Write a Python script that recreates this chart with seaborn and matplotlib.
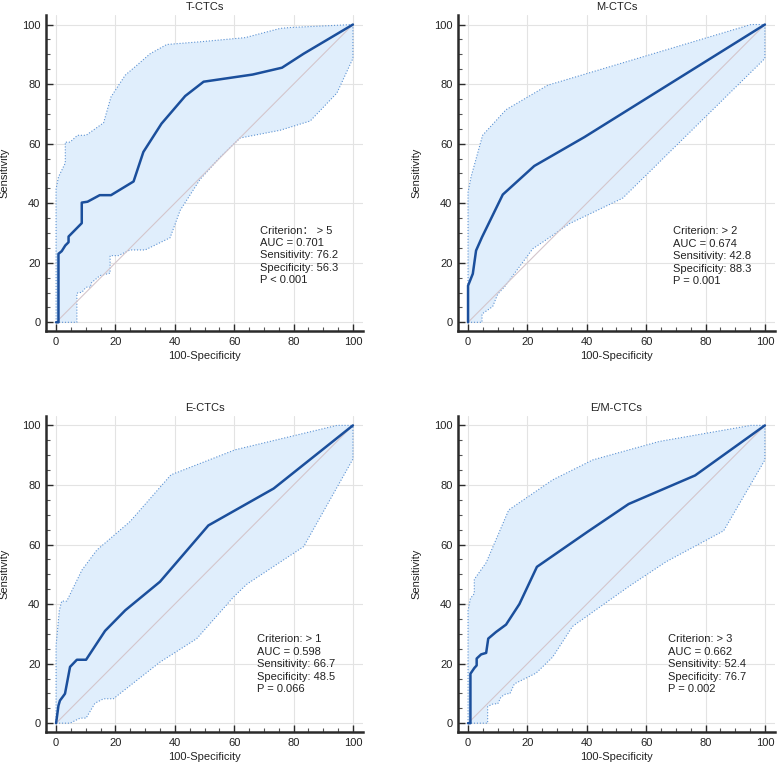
import matplotlib
matplotlib.use("Agg")
import matplotlib.pyplot as plt
import seaborn as sns
import pandas as pd
import numpy as np

sns.set_style("white")
plt.rcParams['font.family'] = ['Liberation Sans', 'Noto Sans CJK SC', 'DejaVu Sans']

# ---------------- data ----------------
titles = ["T-CTCs", "M-CTCs", "E-CTCs", "E/M-CTCs"]

# T-CTCs
t_roc_x = [0, 0.8, 0.8, 1.9, 3.1, 4.2, 4.2, 8.65, 8.65, 10.6, 14.7, 18.5, 26.1, 29.4, 35.5, 43.5, 49.7, 66.2, 76.1, 83.4, 100]
t_roc_y = [0, 0, 23.0, 23.9, 25.8, 26.9, 28.8, 33.3, 40.2, 40.5, 42.7, 42.7, 47.3, 57.2, 66.7, 76.0, 80.8, 83.2, 85.5, 90.2, 100]
t_up_x = [0, 0, 0.8, 3.1, 3.1, 4.7, 7.2, 10.1, 16.0, 18.5, 23.3, 27.2, 31.7, 37.3, 48.5, 63.7, 75.5, 78.9, 100]
t_up_y = [0, 44.8, 48.8, 53.5, 60.5, 60.5, 62.8, 62.8, 67.0, 75.7, 83.0, 86.3, 90.2, 93.3, 94.2, 95.6, 98.7, 99.0, 100]
t_lo_x = [0, 7.0, 7.0, 8.7, 10.1, 11.7, 11.7, 14.8, 18.2, 18.2, 21.0, 24.9, 30.0, 38.4, 41.8, 48.5, 55.3, 62.0, 75.5, 85.6, 94.6, 100, 100]
t_lo_y = [0, 0, 9.8, 10.1, 11.8, 11.8, 13.1, 15.7, 16.5, 22.4, 22.4, 24.3, 24.3, 28.4, 37.6, 48.0, 55.5, 61.9, 64.5, 67.6, 77.0, 88.6, 100]

# M-CTCs
m_roc_x = [0, 0, 1.6, 2.7, 4.7, 11.7, 22.3, 39.2, 100]
m_roc_y = [0, 12.3, 16.3, 24.1, 28.6, 42.9, 52.5, 62.2, 100]
m_up_x = [0, 0, 1.0, 4.9, 12.8, 26.8, 95.3, 100]
m_up_y = [0, 43.7, 48.8, 62.8, 71.4, 79.6, 100, 100]
m_lo_x = [0, 4.7, 4.7, 8.3, 10.0, 12.2, 21.8, 26.3, 34.1, 52.1, 100, 100]
m_lo_y = [0, 0, 2.8, 5.3, 9.5, 11.8, 24.7, 27.7, 33.1, 41.7, 88.6, 100]

# E-CTCs
e_roc_x = [0, 0.8, 1.3, 2.2, 3.0, 4.7, 7.0, 10.1, 16.5, 23.3, 35.0, 51.3, 73.3, 100]
e_roc_y = [0, 5.9, 7.6, 8.8, 9.9, 18.9, 21.3, 21.3, 31.0, 37.9, 47.5, 66.4, 78.8, 100]
e_up_x = [0, 0, 1.1, 1.9, 3.6, 8.7, 13.7, 24.9, 38.7, 60.3, 94.6, 100]
e_up_y = [0, 26.1, 37.9, 41.0, 41.0, 51.4, 58.1, 67.7, 83.4, 91.8, 100, 100]
e_lo_x = [0, 4.7, 8.1, 10.1, 13.1, 16.0, 19.3, 35.0, 47.4, 59.8, 64.3, 83.4, 100, 100]
e_lo_y = [0, 0, 1.7, 1.7, 6.7, 8.2, 8.2, 20.5, 28.4, 42.4, 46.7, 59.3, 88.7, 100]

# E/M-CTCs
em_roc_x = [0, 0.8, 0.8, 2.1, 2.9, 2.9, 4.4, 6.1, 6.8, 9.4, 12.8, 17.3, 23.2, 40.3, 54.1, 76.5, 100]
em_roc_y = [0, 0, 16.6, 18.5, 19.4, 21.7, 23.1, 23.6, 28.4, 30.6, 33.1, 40.0, 52.5, 64.3, 73.6, 83.2, 100]
em_up_x = [0, 0, 0.8, 2.1, 2.1, 6.1, 13.7, 28.5, 42.0, 64.4, 95.3, 100]
em_up_y = [0, 37.9, 41.9, 43.5, 48.3, 53.9, 71.6, 81.7, 88.4, 94.6, 100, 100]
em_lo_x = [0, 6.6, 6.6, 8.5, 10.0, 11.1, 12.8, 14.1, 15.6, 22.9, 28.5, 35.2, 54.3, 66.7, 86.1, 100, 100]
em_lo_y = [0, 0, 5.6, 6.5, 6.5, 8.8, 9.9, 9.9, 13.2, 16.8, 22.2, 32.5, 46.0, 54.2, 64.6, 88.4, 100]

stats = [
    "Criterion\uff1a > 5\nAUC = 0.701\nSensitivity: 76.2\nSpecificity: 56.3\nP < 0.001",
    "Criterion: > 2\nAUC = 0.674\nSensitivity: 42.8\nSpecificity: 88.3\nP = 0.001",
    "Criterion: > 1\nAUC = 0.598\nSensitivity: 66.7\nSpecificity: 48.5\nP = 0.066",
    "Criterion: > 3\nAUC = 0.662\nSensitivity: 52.4\nSpecificity: 76.7\nP = 0.002",
]
text_pos = [(68.7, 32.5), (68.9, 32.2), (67.6, 29.8), (67.3, 29.8)]

ticks = [0, 20, 40, 60, 80, 100]
diag = [0, 100]

panels = [
    (t_roc_x, t_roc_y, t_up_x, t_up_y, t_lo_x, t_lo_y),
    (m_roc_x, m_roc_y, m_up_x, m_up_y, m_lo_x, m_lo_y),
    (e_roc_x, e_roc_y, e_up_x, e_up_y, e_lo_x, e_lo_y),
    (em_roc_x, em_roc_y, em_up_x, em_up_y, em_lo_x, em_lo_y),
]

# ---------------- figure ----------------
fig = plt.figure(figsize=(7.77, 7.65), dpi=100)
positions = [
    [0.0592, 0.567, 0.408, 0.413],
    [0.5894, 0.567, 0.408, 0.413],
    [0.0592, 0.043, 0.408, 0.413],
    [0.5894, 0.043, 0.408, 0.413],
]

line_col = "#1b4f9c"
band_edge = "#5d93d3"
band_fill = "#e0eefc"

for i, (rx, ry, ux, uy, lx, ly) in enumerate(panels):
    ax = fig.add_axes(positions[i])
    poly_x = list(ux) + list(lx)[::-1]
    poly_y = list(uy) + list(ly)[::-1]
    ax.fill(poly_x, poly_y, color=band_fill, zorder=1, lw=0)
    ax.plot(ux, uy, color=band_edge, lw=0.8, ls=":", zorder=2)
    ax.plot(lx, ly, color=band_edge, lw=0.8, ls=":", zorder=2)
    ax.plot(diag, diag, color="#d4c6cc", lw=0.8, zorder=2)
    df = pd.DataFrame({"x": rx, "y": ry})
    sns.lineplot(data=df, x="x", y="y", sort=False, estimator=None,
                 color=line_col, lw=1.8, ax=ax, zorder=3)

    ax.set_xlim(-3.4, 103.4)
    ax.set_ylim(-3.0, 103.1)
    ax.set_xticks(ticks)
    ax.set_yticks(ticks)
    ax.set_xticks(np.arange(0, 101, 5), minor=True)
    ax.set_yticks(np.arange(0, 101, 5), minor=True)
    ax.grid(True, which="major", color="#e3e3e3", lw=0.8, zorder=0)
    ax.grid(False, which="minor")
    ax.set_axisbelow(True)
    for s in ["top", "right"]:
        ax.spines[s].set_visible(False)
    for s in ["left", "bottom"]:
        ax.spines[s].set_color("#2b2b2b")
        ax.spines[s].set_linewidth(1.8)
    ax.tick_params(which="both", bottom=True, left=True, top=False, right=False)
    ax.tick_params(which="major", direction="in", length=5, width=1, color="#2b2b2b",
                   labelsize=8, labelcolor="#222222", pad=4)
    ax.tick_params(which="minor", direction="in", length=3, width=0.8, color="#555555")
    ax.set_xlabel("100-Specificity", fontsize=8, color="#222222", labelpad=3)
    ax.set_ylabel("Sensitivity", fontsize=8, color="#222222", labelpad=9)
    ax.set_title(titles[i], fontsize=8, color="#222222", pad=4)
    tx, ty = text_pos[i]
    ax.text(tx, ty, stats[i], fontsize=8, color="#222222", va="top", ha="left",
            linespacing=1.3, zorder=4)

fig.savefig("out.png", dpi=100)
